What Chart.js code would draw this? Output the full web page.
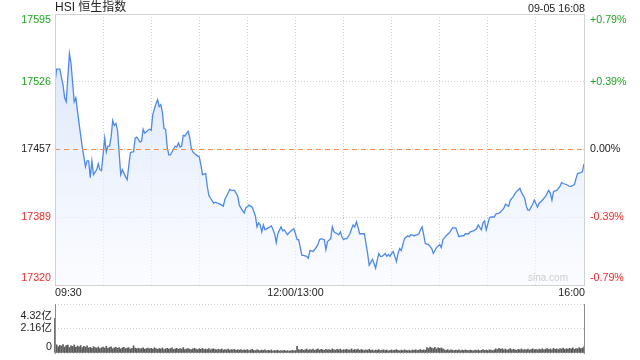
<!DOCTYPE html>
<html><head><meta charset="utf-8">
<script src="https://cdn.jsdelivr.net/npm/chart.js@4.4.1/dist/chart.umd.min.js"></script>
<style>
html,body{margin:0;padding:0;background:#fff;width:640px;height:360px;overflow:hidden}
canvas{position:absolute;left:0;top:0}
</style></head><body>
<canvas id="main" width="640" height="360"></canvas>
<canvas id="vol" width="640" height="360"></canvas>
<script>
const chartTitle = "HSI 恒生指数";
const stamp = "09-05 16:08";
const prevClose = 17457.5;
const priceTicks = [17320, 17388.75, 17457.5, 17526.25, 17595];
const priceTickLabels = ["17320", "17389", "17457", "17526", "17595"];
const pctTickLabels = ["-0.79%", "-0.39%", "0.00%", "+0.39%", "+0.79%"];
const timeTicks = [0, 150, 330];
const timeTickLabels = ["09:30", "12:00/13:00", "16:00"];
const volTicks = [0, 2.16, 4.32];
const volTickLabels = ["0", "2.16亿", "4.32亿"];
const watermark = "sina.com";

// trading minute since 09:30 (lunch break removed)
const minutes = [0,1,3,5,6,7,9,10,11,12,13,15,17,18,19,20,21,22,23,24,26,27,28,29,31,32,33,34,35,36,37,38,39,41,42,44,45,47,48,49,50,51,53,54,55,56,58,59,60,61,63,64,65,66,67,68,69,70,71,72,73,75,76,77,78,79,80,81,83,84,85,86,88,90,91,92,94,95,96,97,99,100,103,105,106,107,109,110,112,114,115,116,118,119,121,122,123,125,126,127,128,129,130,131,133,135,136,137,138,139,141,142,143,145,146,148,149,150,151,152,154,155,157,158,159,161,162,164,165,166,168,169,170,172,173,174,175,177,178,179,180,181,182,184,185,186,187,188,189,190,191,193,194,195,196,198,199,200,201,202,203,204,206,207,208,209,210,211,212,213,214,215,216,217,218,220,221,222,224,226,227,228,229,230,231,233,235,236,238,240,241,242,244,246,248,250,252,254,255,256,258,259,261,263,264,266,267,268,269,271,272,274,275,277,278,280,281,283,284,286,287,288,290,291,293,294,295,296,298,299,301,302,304,305,306,308,309,310,311,313,315,316,317,319,321,322,324,325,326,328,329,330];
const prices = [17525,17539,17539,17523,17510,17506,17555,17545,17525,17506,17510,17484,17460,17450,17440,17446,17446,17429,17446,17432,17437,17443,17437,17436,17469,17455,17461,17461,17470,17487,17482,17484,17477,17432,17437,17430,17427,17454,17455,17455,17469,17470,17465,17466,17478,17474,17477,17478,17477,17493,17504,17508,17501,17503,17495,17479,17478,17460,17452,17452,17455,17461,17460,17464,17460,17461,17472,17471,17476,17470,17459,17455,17452,17450,17442,17432,17433,17420,17411,17408,17403,17404,17402,17400,17407,17410,17417,17416,17416,17410,17401,17398,17393,17398,17401,17400,17399,17390,17379,17383,17381,17374,17381,17376,17378,17380,17376,17372,17363,17372,17379,17375,17376,17371,17373,17376,17377,17372,17366,17366,17350,17350,17349,17347,17355,17354,17356,17361,17366,17367,17366,17356,17364,17367,17379,17374,17373,17371,17374,17369,17366,17367,17367,17372,17377,17381,17379,17384,17379,17372,17372,17372,17362,17352,17340,17346,17342,17337,17345,17352,17349,17349,17352,17349,17351,17349,17352,17354,17349,17344,17352,17357,17355,17361,17367,17370,17369,17371,17370,17371,17372,17376,17379,17371,17362,17361,17357,17352,17358,17361,17358,17366,17370,17373,17378,17378,17369,17370,17370,17372,17372,17374,17375,17377,17381,17376,17383,17385,17376,17388,17389,17389,17392,17393,17394,17398,17402,17400,17406,17410,17413,17415,17418,17414,17408,17400,17396,17396,17402,17406,17399,17403,17406,17408,17410,17416,17413,17406,17415,17416,17420,17424,17423,17422,17420,17420,17422,17428,17433,17434,17435,17443];

// volume per trading minute, in 亿
const volumes = [
3.05,0.72,0.55,0.68,0.61,0.74,0.52,0.66,0.70,0.48,0.63,0.58,0.71,0.50,0.62,0.55,0.66,0.47,0.59,0.52,0.64,0.45,0.50,0.42,0.56,0.48,0.44,0.53,0.40,0.47,
0.52,0.44,0.60,0.41,0.49,0.55,0.38,0.46,0.51,0.42,0.48,0.36,0.45,0.50,0.39,0.43,0.47,0.35,0.41,0.64,0.44,0.38,0.42,0.36,0.40,0.45,0.34,0.39,0.43,0.37,
0.41,0.35,0.46,0.38,0.33,0.40,0.36,0.44,0.31,0.37,0.42,0.34,0.39,0.45,0.32,0.36,0.41,0.33,0.38,0.35,0.47,0.31,0.36,0.40,0.33,0.29,0.37,0.42,0.34,0.30,
0.38,0.33,0.41,0.30,0.35,0.31,0.39,0.28,0.34,0.37,0.30,0.27,0.33,0.29,0.36,0.26,0.31,0.28,0.34,0.25,0.30,0.27,0.32,0.24,0.29,0.26,0.31,0.23,0.28,0.25,
0.30,0.22,0.27,0.32,0.24,0.21,0.28,0.25,0.20,0.26,0.23,0.29,0.19,0.24,0.21,0.27,0.18,0.23,0.20,0.25,0.17,0.22,0.19,0.24,0.18,0.21,0.16,0.20,0.23,0.19,
0.22,0.58,0.30,0.26,0.33,0.24,0.29,0.35,0.25,0.31,0.27,0.34,0.23,0.30,0.36,0.26,0.32,0.28,0.24,0.33,0.27,0.31,0.25,0.37,0.29,0.26,0.32,0.28,0.35,0.24,
0.30,0.27,0.33,0.25,0.29,0.36,0.26,0.31,0.28,0.34,0.24,0.30,0.27,0.22,0.29,0.25,0.32,0.23,0.27,0.20,0.26,0.24,0.30,0.21,0.25,0.28,0.22,0.26,0.19,0.24,
0.27,0.21,0.25,0.30,0.23,0.20,0.26,0.22,0.28,0.24,0.21,0.25,0.19,0.27,0.23,0.29,0.22,0.26,0.31,0.24,0.28,0.25,0.48,0.40,0.52,0.44,0.38,0.50,0.36,0.46,
0.41,0.45,0.37,0.28,0.24,0.30,0.22,0.27,0.25,0.21,0.26,0.23,0.29,0.20,0.25,0.22,0.28,0.24,0.21,0.26,0.23,0.19,0.25,0.22,0.27,0.20,0.24,0.30,0.23,0.26,
0.22,0.28,0.25,0.21,0.27,0.36,0.30,0.41,0.33,0.38,0.28,0.35,0.26,0.31,0.39,0.27,0.33,0.29,0.24,0.32,0.27,0.36,0.25,0.30,0.28,0.34,0.26,0.31,0.37,0.29,
0.33,0.27,0.35,0.30,0.38,0.28,0.34,0.40,0.31,0.36,0.29,0.42,0.33,0.37,0.30,0.39,0.35,0.43,0.32,0.38,0.34,0.41,0.36,0.45,0.33,0.40,0.37,0.47,0.39,0.44,
0.55];

const FONT = '"Liberation Sans", Arial, "Noto Sans CJK SC", sans-serif';
const GREEN = '#1fa51f', RED = '#f02a2a', DARK = '#222';
const gridTicks = [];
for (let t = 0; t <= 330; t += 30) gridTicks.push(t);

function fillGradient(context) {
  const chart = context.chart;
  const a = chart.chartArea;
  if (!a) return 'rgba(220,232,250,0.6)';
  const g = chart.ctx.createLinearGradient(0, a.top, 0, a.bottom);
  g.addColorStop(0, 'rgba(206,222,248,0.85)');
  g.addColorStop(1, 'rgba(248,250,255,0.6)');
  return g;
}

const mainLabels = {
  id: 'mainLabels',
  afterDraw(chart) {
    const {ctx, chartArea: a, scales: {x, y}} = chart;
    ctx.save();
    ctx.setLineDash([]);
    ctx.strokeStyle = '#d2d2d2';
    ctx.lineWidth = 1;
    ctx.strokeRect(a.left + 0.5, a.top + 0.5, a.right - a.left, a.bottom - a.top);

    ctx.fillStyle = DARK;
    ctx.font = '12px ' + FONT;
    ctx.textAlign = 'left';
    ctx.textBaseline = 'middle';
    ctx.fillText(chartTitle, a.left, 8);
    ctx.font = '10.7px ' + FONT;
    ctx.textAlign = 'right';
    ctx.fillText(stamp, a.right + 1, 9);

    priceTicks.forEach((v, i) => {
      let py = y.getPixelForValue(v);
      if (i === priceTicks.length - 1) py += 6;
      if (i === 0) py -= 6.5;
      ctx.fillStyle = v > prevClose + 1 ? GREEN : (v < prevClose - 1 ? RED : DARK);
      ctx.textAlign = 'right';
      ctx.fillText(priceTickLabels[i], a.left - 4, py);
      ctx.textAlign = 'left';
      ctx.fillText(pctTickLabels[i], a.right + 6, py);
    });

    ctx.fillStyle = DARK;
    timeTicks.forEach((t, i) => {
      const px = x.getPixelForValue(t);
      ctx.textAlign = i === 0 ? 'left' : (i === timeTicks.length - 1 ? 'right' : 'center');
      ctx.fillText(timeTickLabels[i], i === timeTicks.length - 1 ? px + 1 : px, 293.5);
    });

    ctx.fillStyle = '#cdcdcd';
    ctx.font = '10px ' + FONT;
    ctx.textAlign = 'right';
    ctx.fillText(watermark, a.right - 16, 278.5);
    ctx.restore();
  }
};

new Chart(document.getElementById('main'), {
  type: 'line',
  data: {
    datasets: [
      {
        data: minutes.map((m, i) => ({x: m, y: prices[i]})),
        borderColor: '#4d88ec',
        borderWidth: 1.3,
        pointRadius: 0,
        tension: 0,
        fill: 'start',
        backgroundColor: fillGradient,
        order: 2
      },
      {
        data: [{x: 0, y: prevClose}, {x: 330, y: prevClose}],
        borderColor: '#f0904f',
        borderWidth: 1,
        borderDash: [5, 4],
        pointRadius: 0,
        fill: false,
        order: 1
      }
    ]
  },
  options: {
    responsive: false,
    animation: false,
    events: [],
    layout: {padding: {left: 55, right: 56, top: 14, bottom: 75}},
    plugins: {legend: {display: false}, tooltip: {enabled: false}},
    scales: {
      x: {
        type: 'linear', min: 0, max: 330,
        afterBuildTicks: s => { s.ticks = gridTicks.map(v => ({value: v})); },
        ticks: {display: false},
        grid: {color: '#cfcfcf', drawTicks: false},
        border: {display: false, dash: [1, 2]}
      },
      y: {
        type: 'linear', min: 17320, max: 17595,
        afterBuildTicks: s => { s.ticks = priceTicks.map(v => ({value: v})); },
        ticks: {display: false},
        grid: {color: '#cfcfcf', drawTicks: false},
        border: {display: false, dash: [1, 2]}
      }
    }
  },
  plugins: [mainLabels]
});

const volLabels = {
  id: 'volLabels',
  afterDraw(chart) {
    const {ctx, chartArea: a, scales: {y}} = chart;
    ctx.save();
    ctx.setLineDash([]);
    ctx.strokeStyle = '#8c8c8c';
    ctx.lineWidth = 1;
    ctx.beginPath();
    ctx.moveTo(a.left + 0.5, a.top);
    ctx.lineTo(a.left + 0.5, a.bottom + 1);
    ctx.moveTo(a.right + 0.5, a.top);
    ctx.lineTo(a.right + 0.5, a.bottom + 1);
    ctx.stroke();
    ctx.fillStyle = DARK;
    ctx.font = '10.7px ' + FONT;
    ctx.textAlign = 'right';
    ctx.textBaseline = 'middle';
    volTicks.forEach((v, i) => {
      let py = y.getPixelForValue(v);
      if (i === volTicks.length - 1) py += 12;
      if (i === 0) py -= 6;
      ctx.fillText(volTickLabels[i], a.left - 3, py);
    });
    ctx.restore();
  }
};

new Chart(document.getElementById('vol'), {
  type: 'bar',
  data: {
    datasets: [{
      data: volumes.map((v, i) => ({x: i, y: v})),
      backgroundColor: '#5a5a5a',
      barThickness: 1,
      clip: false
    }]
  },
  options: {
    responsive: false,
    animation: false,
    events: [],
    layout: {padding: {left: 55, right: 56, top: 304, bottom: 7}},
    plugins: {legend: {display: false}, tooltip: {enabled: false}},
    scales: {
      x: {
        type: 'linear', min: 0, max: 330, offset: false,
        ticks: {display: false},
        grid: {display: false, drawTicks: false},
        border: {display: false}
      },
      y: {
        type: 'linear', min: 0, max: 4.32,
        afterBuildTicks: s => { s.ticks = volTicks.map(v => ({value: v})); },
        ticks: {display: false},
        grid: {color: '#cfcfcf', drawTicks: false},
        border: {display: false, dash: [1, 2]}
      }
    }
  },
  plugins: [volLabels]
});
</script>
</body></html>
